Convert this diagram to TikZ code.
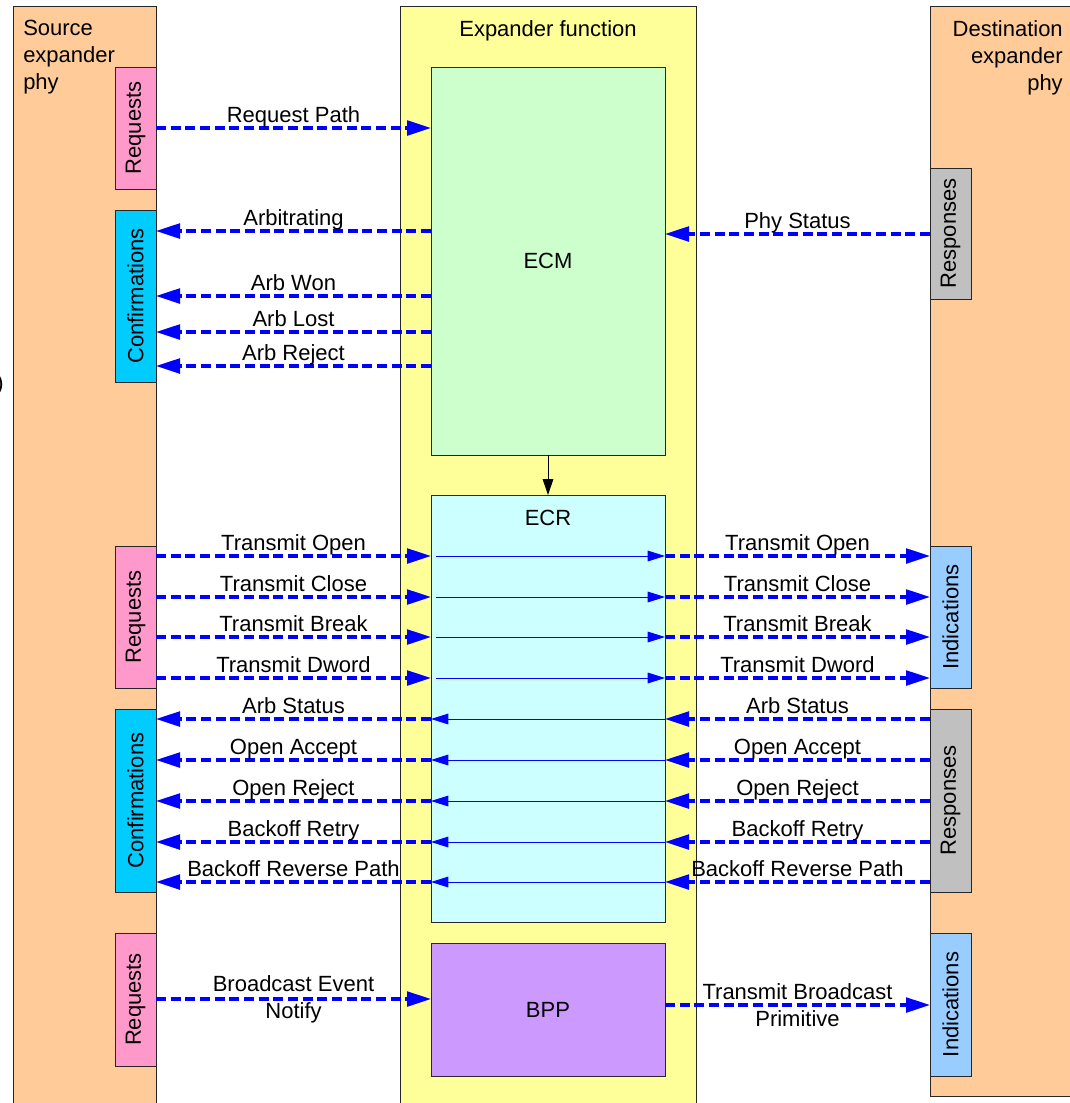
\documentclass[tikz,border=0pt]{standalone}
\usepackage{fontspec}
\setmainfont{Liberation Sans}
\usetikzlibrary{arrows.meta,positioning}

\definecolor{phyorange}{HTML}{FFCC99}
\definecolor{fnyellow}{HTML}{FFFF99}
\definecolor{ecmgreen}{HTML}{CCFFCC}
\definecolor{ecrcyan}{HTML}{CCFFFF}
\definecolor{bpppurple}{HTML}{CC99FF}
\definecolor{reqpink}{HTML}{FF99CC}
\definecolor{confblue}{HTML}{00CCFF}
\definecolor{indblue}{HTML}{99CCFF}
\definecolor{respgray}{HTML}{C0C0C0}
\definecolor{sigblue}{HTML}{0000FF}

\begin{document}
\begin{tikzpicture}[x=0.75pt,y=0.75pt,yscale=-1,xscale=1,
    font=\fontsize{16.5}{20.25}\selectfont,
    blk/.style={draw=black!85, line width=0.75pt, inner sep=0pt, outer sep=0pt},
    side/.style={blk, minimum width=30.75pt, minimum height=#1},
    sig/.style={sigblue, line width=2.5pt, dash pattern=on 7.5pt off 3.5pt, -{Triangle[length=18pt,width=11pt]}},
    thru/.style={sigblue, line width=0.75pt, -{Triangle[length=13pt,width=8pt]}},
    lbl/.style={above, text=black, inner sep=4.5pt, outer sep=0pt, text depth=0pt},
    twolbl/.style={text=black, align=center, inner sep=0pt, outer sep=0pt}]
    \useasboundingbox (0,0) rectangle (1070,1103);
    \clip (0,0) rectangle (1070,1103);
    %Columns
    \draw[blk, fill=phyorange] (13,6) rectangle (156,1115);
    \draw[blk, fill=fnyellow] (400,6) rectangle (696,1115);
    \draw[blk, fill=phyorange] (930,6) rectangle (1080,1096);
    % Text Node
    \node (srcname) [anchor=north west, align=left, inner sep=0pt] at (23,20) {Source\\expander\\phy};
    % Text Node
    \node (dstname) [anchor=north east, align=right, inner sep=0pt] at (1063,20) {Destination\\expander\\phy};
    % Text Node
    \node (fnname) [anchor=base, inner sep=0pt] at (548,36) {Expander function};
    % Text Node
    \node (cut) [anchor=east, inner sep=0pt] at (4,385) {)};
    %Function blocks
    \node (ecm) [blk, fill=ecmgreen, minimum width=175.5pt, minimum height=291pt] at (548,261) {ECM};
    \node (ecr) [blk, fill=ecrcyan, minimum width=175.5pt, minimum height=320.25pt] at (548,708.5) {};
    \node (ecrname) [anchor=base, inner sep=0pt] at (548,525) {ECR};
    \node (bpp) [blk, fill=bpppurple, minimum width=175.5pt, minimum height=99.75pt] at (548,1009.5) {BPP};
    \draw[line width=0.75pt, -{Triangle[length=12pt,width=8pt]}] (ecm) -- (ecr);
    %Source side boxes
    \node (lreqA) [side=91.5pt, fill=reqpink] at (135.5,128) {\rotatebox{90}{Requests}};
    \node (lconfA) [side=129pt, fill=confblue] at (135.5,296) {\rotatebox{90}{Confirmations}};
    \node (lreqB) [side=106.5pt, fill=reqpink] at (135.5,617) {\rotatebox{90}{Requests}};
    \node (lconfB) [side=137.25pt, fill=confblue] at (135.5,800.5) {\rotatebox{90}{Confirmations}};
    \node (lreqC) [side=99.75pt, fill=reqpink] at (135.5,999.5) {\rotatebox{90}{Requests}};
    %Destination side boxes
    \node (rrespA) [side=98.25pt, fill=respgray] at (950.5,233.5) {\rotatebox{90}{Responses}};
    \node (rindB) [side=106.5pt, fill=indblue] at (950.5,617) {\rotatebox{90}{Indications}};
    \node (rrespB) [side=137.25pt, fill=respgray] at (950.5,800.5) {\rotatebox{90}{Responses}};
    \node (rindC) [side=107.25pt, fill=indblue] at (950.5,1004.5) {\rotatebox{90}{Indications}};
    %ECM signals
    \draw[sig] (lreqA.east |- 0,128) -- (ecm.west |- 0,128) node[lbl, midway] {Request Path};
    \draw[sig] (ecm.west |- 0,231) -- (lconfA.east |- 0,231) node[lbl, midway] {Arbitrating};
    \draw[sig] (ecm.west |- 0,296) -- (lconfA.east |- 0,296) node[lbl, midway] {Arb Won};
    \draw[sig] (ecm.west |- 0,332) -- (lconfA.east |- 0,332) node[lbl, midway] {Arb Lost};
    \draw[sig] (ecm.west |- 0,366) -- (lconfA.east |- 0,366) node[lbl, midway] {Arb Reject};
    \draw[sig] (rrespA.west |- 0,234) -- (ecm.east |- 0,234) node[lbl, midway] {Phy Status};
    %ECR requests -> indications
    \draw[sig] (lreqB.east |- 0,556) -- (ecr.west |- 0,556) node[lbl, midway] {Transmit Open};
    \draw[thru, shorten <=4pt] (ecr.west |- 0,556) -- (ecr.east |- 0,556);
    \draw[sig] (ecr.east |- 0,556) -- (rindB.west |- 0,556) node[lbl, midway] {Transmit Open};
    \draw[sig] (lreqB.east |- 0,597) -- (ecr.west |- 0,597) node[lbl, midway] {Transmit Close};
    \draw[thru, shorten <=4pt] (ecr.west |- 0,597) -- (ecr.east |- 0,597);
    \draw[sig] (ecr.east |- 0,597) -- (rindB.west |- 0,597) node[lbl, midway] {Transmit Close};
    \draw[sig] (lreqB.east |- 0,637) -- (ecr.west |- 0,637) node[lbl, midway] {Transmit Break};
    \draw[thru, shorten <=4pt] (ecr.west |- 0,637) -- (ecr.east |- 0,637);
    \draw[sig] (ecr.east |- 0,637) -- (rindB.west |- 0,637) node[lbl, midway] {Transmit Break};
    \draw[sig] (lreqB.east |- 0,678) -- (ecr.west |- 0,678) node[lbl, midway] {Transmit Dword};
    \draw[thru, shorten <=4pt] (ecr.west |- 0,678) -- (ecr.east |- 0,678);
    \draw[sig] (ecr.east |- 0,678) -- (rindB.west |- 0,678) node[lbl, midway] {Transmit Dword};
    %ECR responses -> confirmations
    \draw[sig] (rrespB.west |- 0,719) -- (ecr.east |- 0,719) node[lbl, midway] {Arb Status};
    \draw[thru] (ecr.east |- 0,719) -- (ecr.west |- 0,719);
    \draw[sig] (ecr.west |- 0,719) -- (lconfB.east |- 0,719) node[lbl, midway] {Arb Status};
    \draw[sig] (rrespB.west |- 0,760) -- (ecr.east |- 0,760) node[lbl, midway] {Open Accept};
    \draw[thru] (ecr.east |- 0,760) -- (ecr.west |- 0,760);
    \draw[sig] (ecr.west |- 0,760) -- (lconfB.east |- 0,760) node[lbl, midway] {Open Accept};
    \draw[sig] (rrespB.west |- 0,801) -- (ecr.east |- 0,801) node[lbl, midway] {Open Reject};
    \draw[thru] (ecr.east |- 0,801) -- (ecr.west |- 0,801);
    \draw[sig] (ecr.west |- 0,801) -- (lconfB.east |- 0,801) node[lbl, midway] {Open Reject};
    \draw[sig] (rrespB.west |- 0,842) -- (ecr.east |- 0,842) node[lbl, midway] {Backoff Retry};
    \draw[thru] (ecr.east |- 0,842) -- (ecr.west |- 0,842);
    \draw[sig] (ecr.west |- 0,842) -- (lconfB.east |- 0,842) node[lbl, midway] {Backoff Retry};
    \draw[sig] (rrespB.west |- 0,882) -- (ecr.east |- 0,882) node[lbl, midway] {Backoff Reverse Path};
    \draw[thru] (ecr.east |- 0,882) -- (ecr.west |- 0,882);
    \draw[sig] (ecr.west |- 0,882) -- (lconfB.east |- 0,882) node[lbl, midway] {Backoff Reverse Path};
    %BPP signals
    \draw[sig] (lreqC.east |- 0,999) -- (bpp.west |- 0,999) node[twolbl, midway] {Broadcast Event\\Notify};
    \draw[sig] (bpp.east |- 0,1005) -- (rindC.west |- 0,1005) node[twolbl, midway] {Transmit Broadcast\\Primitive};
\end{tikzpicture}
\end{document}
